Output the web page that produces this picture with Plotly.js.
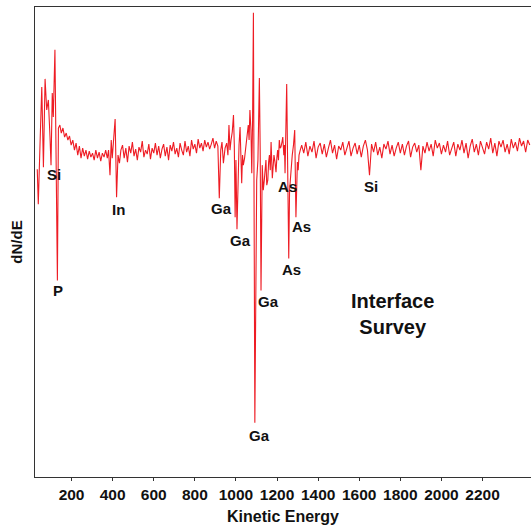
<!DOCTYPE html>
<html><head><meta charset="utf-8">
<script src="https://cdn.plot.ly/plotly-3.0.1.min.js"></script>
<style>html,body{margin:0;padding:0;background:#fff;overflow:hidden}#chart{width:531px;height:527px}</style>
</head><body><div id="chart"></div>
<script>
// Segment A: low-energy region (Si, P, In)
const energyA = [33,38,47,55,63,71,79,87,95,100,106,111,119,124,131,136,143,150,158,166,174,182,190,198,206,214,222,230,238,246,254,262,270,278,286,294,302,310,318,326,334,342,350,358,366,374,380,387,393,398,405,412,419,426,433,440];
const signalA = [-19,-54,10,63,-17,71,40,50,13,-15,57,33,100,17,-130,22,25,17,22,13,17,10,14,5,10,0,7,-5,4,-8,2,-6,0,-9,-1,-7,-3,-10,0,-8,-2,-11,-3,-7,0,-8,0,-25,10,-8,15,31,-47,-5,-13,0];
// Segment B: background 448-872
const energyB = [448,456,464,472,480,488,496,504,512,520,528,536,544,552,560,568,576,584,592,600,608,616,624,632,640,648,656,664,672,680,688,696,704,712,720,728,736,744,752,760,768,776,784,792,800,808,816,824,832,840,848,856,864,872];
const signalB = [5,-8,2,-12,4,-3,8,-6,1,-10,3,-2,9,-7,0,-4,6,-9,2,-3,7,-5,4,-8,1,6,-6,3,-10,5,-1,8,-4,2,-7,7,0,-5,9,-2,4,-6,10,1,6,-3,11,2,7,-1,10,3,8,1];
// Segment C: Ga / As region
const energyC = [880,888,896,904,912,919,926,932,939,947,955,961,966,971,976,982,988,992,996,1000,1005,1010,1015,1020,1024,1028,1032,1036,1042,1049,1055,1060,1064,1068,1073,1077,1081,1085,1092,1097,1101,1107,1114,1118,1122,1128,1133,1138,1142,1146,1150,1155,1159,1163,1167,1171,1177,1181,1185,1190,1195,1199,1203,1207,1211,1215,1219,1224,1228,1233,1236,1239,1247,1252,1257,1261,1265,1270,1274,1280,1286,1292,1299,1303,1307,1313,1320];
const signalC = [6,12,2,9,4,-48,0,8,-13,2,7,-5,25,0,10,18,35,5,-67,-10,-79,-20,5,23,-10,-33,-5,-15,-8,3,12,25,10,40,20,-23,30,137,-272,-60,-30,-10,72,0,-140,-15,-40,-30,-20,-10,-35,-30,-12,-5,-20,8,-28,-15,-5,-12,-22,-8,0,-10,10,2,3,8,13,-5,5,-23,66,-22,-108,-40,-25,-15,-5,5,20,-67,-12,-20,-5,0,5];
// Segment D: high-energy background (Si)
const energyD = [1330,1340,1350,1360,1370,1380,1390,1400,1410,1420,1430,1440,1450,1460,1470,1480,1490,1500,1510,1520,1530,1540,1550,1560,1570,1580,1590,1600,1610,1620,1630,1640,1650,1660,1670,1680,1690,1700,1710,1720,1730,1740,1750,1760,1770,1780,1790,1800,1810,1820,1830,1840,1850,1860,1870,1880,1890,1900,1910,1920,1930,1940,1950,1960,1970,1980,1990,2000,2010,2020,2030,2040,2050,2060,2070,2080,2090,2100,2110,2120,2130,2140,2150,2160,2170,2180,2190,2200,2210,2220,2230,2240,2250,2260,2270,2280,2290,2300,2310,2320,2330,2340,2350,2360,2370,2380,2390,2400,2410,2420,2430];
const signalD = [-3,8,-6,4,-2,9,-8,3,7,-4,6,-7,2,10,-3,5,-9,4,0,8,-5,3,9,-6,2,7,-4,5,-7,4,10,0,-25,6,-2,8,-5,3,-8,6,1,9,-4,5,-6,2,8,-3,6,-5,4,9,-7,3,7,-2,5,-20,4,-3,8,-1,6,-6,10,2,7,-4,5,-2,9,-5,3,8,-6,6,0,10,-3,7,-8,4,11,-2,6,-5,9,2,-4,8,1,12,-3,7,-6,9,3,10,-2,6,-4,11,2,8,-1,12,4,9,-2,10,5];

const tickVals = [200,400,600,800,1000,1200,1400,1600,1800,2000,2200];
const labels = [
  {t:'Si', e:115, v:-24},
  {t:'P', e:132, v:-140},
  {t:'In', e:426, v:-59},
  {t:'Ga', e:932, v:-58},
  {t:'Ga', e:1020, v:-90},
  {t:'Ga', e:1156, v:-151},
  {t:'Ga', e:1117, v:-285},
  {t:'As', e:1249, v:-36},
  {t:'As', e:1317, v:-76},
  {t:'As', e:1268, v:-119},
  {t:'Si', e:1657, v:-36}
];

const energy = energyA.concat(energyB, energyC, energyD);
const signal = signalA.concat(signalB, signalC, signalD);

const FONT = 'Liberation Sans, Arial, Helvetica, sans-serif';
const annotations = labels.map(l => ({
  x: l.e, y: l.v, xref:'x', yref:'y', text:'<b>'+l.t+'</b>', showarrow:false,
  font:{family:FONT, size:15, color:'#111'}
}));
annotations.push({x:1764, y:-163, xref:'x', yref:'y', text:'<b>Interface<br>Survey</b>', showarrow:false,
  font:{family:FONT, size:20, color:'#111'}, align:'center'});

Plotly.newPlot('chart', [{
  x: energy, y: signal, type:'scatter', mode:'lines',
  line:{color:'#ee1c24', width:1.1}, hoverinfo:'skip'
}], {
  width:531, height:527,
  margin:{l:35, r:0, t:7, b:50},
  paper_bgcolor:'#fff', plot_bgcolor:'#fff',
  showlegend:false,
  font:{family:FONT, color:'#111'},
  xaxis:{range:[22,2436], tickvals:tickVals, ticktext:tickVals.map(v=>'<b>'+v+'</b>'),
    ticks:'outside', ticklen:3, tickcolor:'#333', showline:true, linecolor:'#333', linewidth:1,
    mirror:true, showgrid:false, zeroline:false, tickfont:{family:FONT, size:15.5, color:'#111'},
    title:{text:'<b>Kinetic Energy</b>', font:{family:FONT, size:16, color:'#111'}, standoff:9}},
  yaxis:{range:[-326,142.7], showticklabels:false, ticks:'', showline:true, linecolor:'#333', linewidth:1,
    showgrid:false, zeroline:false,
    title:{text:'<b>dN/dE</b>', font:{family:FONT, size:15, color:'#111'}, standoff:7}},
  annotations: annotations
}, {displayModeBar:false, staticPlot:true});
</script></body></html>
